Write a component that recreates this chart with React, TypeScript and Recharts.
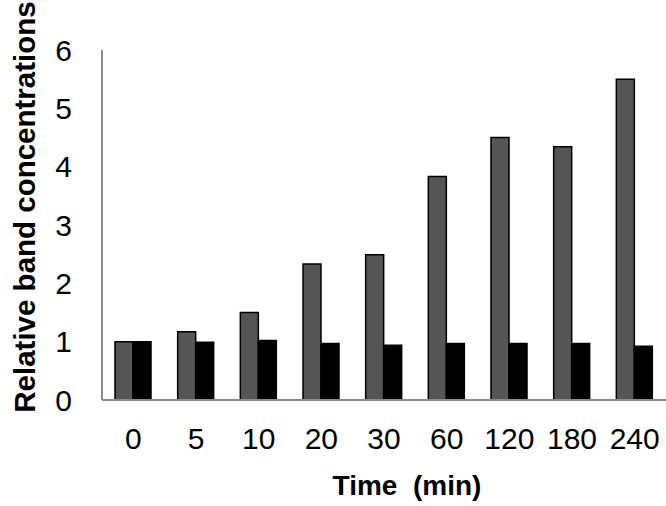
import React from 'react'
import { BarChart, Bar, XAxis, YAxis, Label } from 'recharts'

const times = ['0', '5', '10', '20', '30', '60', '120', '180', '240']
const grayValues = [1.0, 1.17, 1.5, 2.33, 2.49, 3.83, 4.5, 4.34, 5.5]
const blackValues = [1.0, 0.99, 1.02, 0.97, 0.94, 0.97, 0.97, 0.97, 0.92]
const yTicks = [0, 1, 2, 3, 4, 5, 6]

const data = times.map((t, i) => ({
  time: t,
  gray: grayValues[i],
  black: blackValues[i],
}))

const font = "'Liberation Sans', Arial, sans-serif"

// rotated y title, drawn by hand so it can sit a bit above the plot middle
const YTitle = () => {
  const cx = 35
  const cy = 207
  return (
    <text
      x={cx}
      y={cy}
      transform={`rotate(-90, ${cx}, ${cy})`}
      textAnchor="middle"
      fontFamily={font}
      fontWeight="bold"
      fontSize={29.5}
      fill="#000"
    >
      Relative band concentrations
    </text>
  )
}

export default function App() {
  return (
    <div style={{ position: 'absolute', left: 0, top: 0, width: 666, height: 506, background: '#fff' }}>
      <BarChart
        width={666}
        height={506}
        data={data}
        margin={{ top: 50, right: 0, bottom: 0, left: 0 }}
        barSize={18}
        barGap={0}
      >
        <XAxis
          dataKey="time"
          height={106}
          tickLine={false}
          tickSize={0}
          tickMargin={28}
          axisLine={{ stroke: '#8c8c8c', strokeWidth: 2 }}
          tick={{ fill: '#000', fontSize: 30, fontFamily: font }}
          interval={0}
        >
          <Label
            value={'Time\u00a0 (min)'}
            position="insideBottom"
            offset={11}
            dx={23}
            style={{ fill: '#000', fontSize: 28, fontWeight: 'bold', fontFamily: font }}
          />
        </XAxis>
        <YAxis
          width={102}
          domain={[0, 6]}
          ticks={yTicks}
          tickLine={false}
          tickSize={0}
          tickMargin={30}
          axisLine={{ stroke: '#8c8c8c', strokeWidth: 2 }}
          tick={{ fill: '#000', fontSize: 30, fontFamily: font }}
          interval={0}
        >
          <Label content={YTitle} />
        </YAxis>
        <Bar dataKey="gray" fill="#555555" stroke="#000" strokeWidth={1.5} isAnimationActive={false} />
        <Bar dataKey="black" fill="#000000" stroke="#000" strokeWidth={1.5} isAnimationActive={false} />
      </BarChart>
    </div>
  )
}
